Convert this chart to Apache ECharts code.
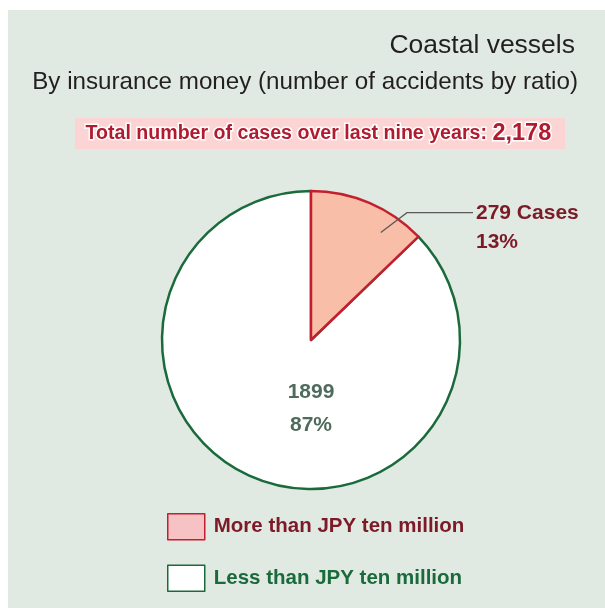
<!DOCTYPE html>
<html>
<head>
<meta charset="utf-8">
<script src="https://cdn.jsdelivr.net/npm/echarts@6/dist/echarts.min.js"></script>
<style>
  html, body { margin: 0; padding: 0; background: #ffffff; }
  #chart { position: absolute; left: 8px; top: 10px; width: 597px; height: 598px; background: #e0e9e2; }
</style>
</head>
<body>
<div id="chart"></div>
<script>
// Accident counts by insurance payout band (coastal vessels, last nine years)
const categories = ['More than JPY ten million', 'Less than JPY ten million'];
const caseCounts = [279, 1899];
const totalCases = 2178;

const titleText = 'Coastal vessels';
const subtitleText = 'By insurance money (number of accidents by ratio)';
const bannerText = 'Total number of cases over last nine years';

const bold = '"Liberation Sans", Arial, sans-serif';
const plain = '"Liberation Sans", Arial, sans-serif';

const RED = '#c41f2f', PINK = '#f8bea8', GREEN = '#1a6a3c';
const DARKRED = '#7d1a28', GREYGREEN = '#4f6b5e';

const chart = echarts.init(document.getElementById('chart'), null, { renderer: 'canvas' });

// offset of the chart div inside the page
const OX = 8, OY = 10;
const CX = 311 - OX, CY = 340 - OY, R = 149;

function pct(p) { return Math.round(p.percent) + '%'; }

const pieData = categories.map((n, i) => ({ name: n, value: caseCounts[i] }));

// callout for the smaller slice: starts inside the slice, bends just past the rim, runs right
const calloutA1 = 33 * Math.PI / 180, calloutA2 = 37 * Math.PI / 180;
const cp1 = [CX + 0.86 * R * Math.sin(calloutA1), CY - 0.86 * R * Math.cos(calloutA1)];
const cp2 = [CX + 1.07 * R * Math.sin(calloutA2), CY - 1.07 * R * Math.cos(calloutA2)];
const cp3 = [473 - OX, cp2[1]];

chart.setOption({
  animation: false,
  title: [
    {
      text: titleText, right: 605 - 575, top: 32 - OY, padding: 0,
      textStyle: { fontFamily: plain, fontSize: 26.5, fontWeight: 'normal', color: '#231f20' }
    },
    {
      text: subtitleText, right: 605 - 578, top: 70 - OY, padding: 0,
      textStyle: { fontFamily: plain, fontSize: 24.2, fontWeight: 'normal', color: '#231f20' }
    }
  ],
  graphic: [
    {
      type: 'rect', left: 75 - OX, top: 118 - OY,
      shape: { width: 490, height: 31 },
      style: { fill: '#fcd4d4' }, silent: true
    },
    {
      type: 'text', left: 84 - OX, top: 120 - OY, silent: true,
      style: {
        text: '{a|' + bannerText + ': }{b|' + totalCases.toLocaleString('en-US') + '}',
        rich: {
          a: { fontFamily: bold, fontWeight: 'bold', fontSize: 19.6, fill: '#b01b30',
               stroke: '#ffffff', lineWidth: 3 },
          b: { fontFamily: bold, fontWeight: 'bold', fontSize: 23.5, fill: '#b01b30',
               stroke: '#ffffff', lineWidth: 3 }
        }
      }
    },
    {
      type: 'polyline', silent: true, z: 100,
      shape: { points: [cp1, cp2, cp3] },
      style: { stroke: '#5a5a5a', lineWidth: 1.3, fill: null }
    }
  ],
  legend: {
    orient: 'vertical', left: 167 - OX, top: 513 - OY, padding: 0,
    itemWidth: 37, itemHeight: 26, itemGap: 24, icon: 'rect',
    selectedMode: false,
    data: [
      { name: categories[0], itemStyle: { color: '#f7c2c4', borderColor: RED, borderWidth: 1.5 },
        textStyle: { color: DARKRED } },
      { name: categories[1], itemStyle: { color: '#ffffff', borderColor: GREEN, borderWidth: 1.5 },
        textStyle: { color: GREEN } }
    ],
    textStyle: { fontFamily: bold, fontWeight: 'bold', fontSize: 20.5, padding: [0, 0, 0, 4] }
  },
  series: [
    {
      // lower layer: the larger slice with its green outline
      type: 'pie', center: [CX, CY], radius: [0, R], startAngle: 90, clockwise: true,
      emphasis: { disabled: true }, silent: true, legendHoverLink: false,
      data: [
        { name: pieData[0].name, value: pieData[0].value,
          itemStyle: { color: 'rgba(0,0,0,0)', borderWidth: 0 }, label: { show: false }, labelLine: { show: false } },
        { name: pieData[1].name, value: pieData[1].value,
          itemStyle: { color: '#ffffff', borderColor: GREEN, borderWidth: 2.5 },
          label: {
            show: true, position: 'inside',
            formatter: p => p.value + '\n' + pct(p),
            fontFamily: bold, fontWeight: 'bold', fontSize: 21, lineHeight: 33,
            color: GREYGREEN, align: 'center'
          }
        }
      ],
      labelLayout: function (p) {
        return { x: CX, y: CY + 69, align: 'center', verticalAlign: 'middle' };
      }
    },
    {
      // upper layer: the smaller slice with its red outline and value label
      type: 'pie', center: [CX, CY], radius: [0, R], startAngle: 90, clockwise: true,
      emphasis: { disabled: true }, silent: true, legendHoverLink: false,
      data: [
        { name: pieData[0].name, value: pieData[0].value,
          itemStyle: { color: PINK, borderColor: RED, borderWidth: 2.5 },
          label: {
            show: true, position: 'outside',
            formatter: p => p.value + ' Cases\n' + pct(p),
            fontFamily: bold, fontWeight: 'bold', fontSize: 21, lineHeight: 29,
            color: DARKRED, align: 'left'
          },
          labelLine: { show: false }
        },
        { name: pieData[1].name, value: pieData[1].value,
          itemStyle: { color: 'rgba(0,0,0,0)', borderWidth: 0 }, label: { show: false }, labelLine: { show: false } }
      ],
      labelLayout: function (p) {
        if (p.dataIndex !== 0) return {};
        return { x: 476 - OX, y: 199 - OY, align: 'left', verticalAlign: 'top' };
      }
    }
  ]
});
</script>
</body>
</html>
